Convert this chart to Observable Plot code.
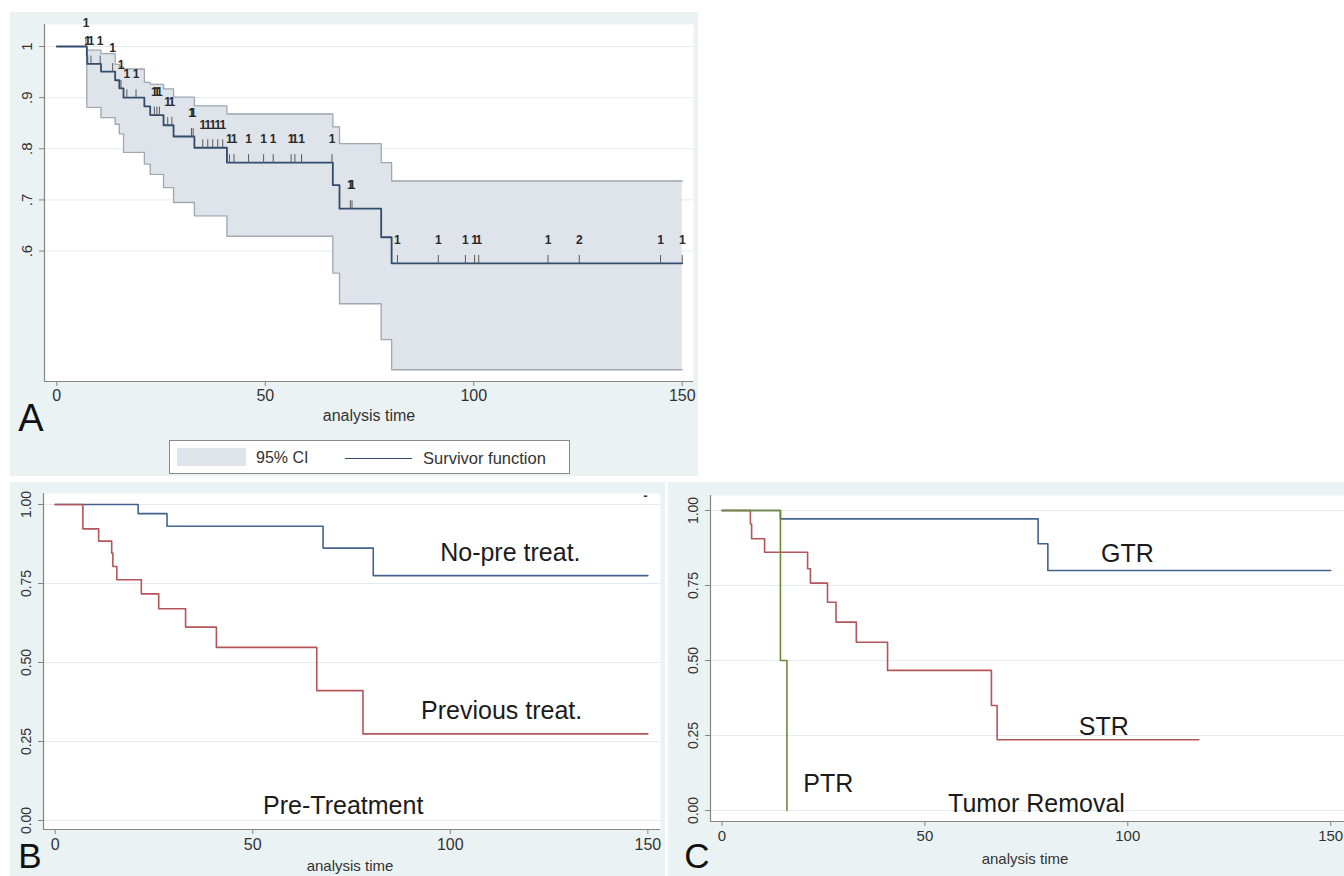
<!DOCTYPE html>
<html>
<head>
<meta charset="utf-8">
<script src="https://cdn.jsdelivr.net/npm/d3@7"></script>
<script src="https://cdn.jsdelivr.net/npm/@observablehq/plot@0.6"></script>
<style>
  body { margin: 0; background: #ffffff; font-family: "Liberation Sans", Arial, Helvetica, sans-serif; }
  #root { position: relative; width: 1344px; height: 876px; overflow: hidden; background: #ffffff; }
  .panel { position: absolute; background: #eaf2f3; overflow: hidden; }
  .panel svg { position: absolute; left: 0; top: 0; }
  .lbl { position: absolute; transform: translate(-50%, -50%); white-space: nowrap; color: #333; line-height: 1; }
  .letter { position: absolute; transform: translate(-50%, -50%); color: #111; line-height: 1; }
  .legend { position: absolute; background: #ffffff; border: 1px solid #8a8a8a; box-sizing: border-box; }
  .legend .sw { position: absolute; background: #dfe3ea; }
  .legend .ln { position: absolute; height: 0; border-top: 1.7px solid #2f4b6e; }
  .legend .tx { position: absolute; transform: translateY(-50%); white-space: nowrap; color: #333; line-height: 1; }
</style>
</head>
<body>
<div id="root"></div>
<script>
// ------------------------------------------------------------------
// DATA
// ------------------------------------------------------------------
// Panel A: overall Kaplan-Meier survivor function with 95% CI
const aTimes = [0, 7.2, 7.3, 10.6, 14.0, 15.0, 16.0, 21.0, 22.4, 25.6, 28.0, 33.0, 40.8, 66.2, 67.8, 77.8, 80.3, 150];
const aSurv  = [1, 0.982, 0.966, 0.951, 0.934, 0.918, 0.900, 0.883, 0.866, 0.846, 0.824, 0.802, 0.773, 0.729, 0.683, 0.627, 0.576, 0.576];
const aUpper = [1, 0.995, 0.993, 0.986, 0.965, 0.960, 0.956, 0.930, 0.926, 0.917, 0.901, 0.884, 0.868, 0.843, 0.810, 0.773, 0.737, 0.737];
const aLower = [1, 0.881, 0.881, 0.861, 0.848, 0.829, 0.793, 0.770, 0.750, 0.724, 0.695, 0.669, 0.629, 0.557, 0.497, 0.427, 0.368, 0.368];
// censored observations (time, number censored)
const aCensorTimes  = [7.0, 7.4, 8.2, 10.4, 13.4, 15.4, 16.8, 19.0, 23.4, 24.0, 24.6, 26.6, 27.6, 32.3, 32.7,
                       35.0, 36.2, 37.4, 38.6, 39.8, 41.4, 42.5, 46.0, 49.6, 51.9, 56.2, 57.1, 58.7, 66.0,
                       70.4, 70.8, 81.7, 91.5, 98.0, 100.2, 101.2, 117.8, 125.3, 144.8, 150];
const aCensorCounts = [1, 1, 1, 1, 1, 1, 1, 1, 1, 1, 1, 1, 1, 1, 1,
                       1, 1, 1, 1, 1, 1, 1, 1, 1, 1, 1, 1, 1, 1,
                       1, 1, 1, 1, 1, 1, 1, 1, 2, 1, 1];
const aYTicks = [1, 0.9, 0.8, 0.7, 0.6];
const aYTickLabels = ["1", ".9", ".8", ".7", ".6"];
const xTicks = [0, 50, 100, 150];
const legendLabels = ["95% CI", "Survivor function"];

// Panel B: by pre-treatment
const bNoPreTimes = [0, 21.0, 28.3, 67.8, 80.5, 150];
const bNoPreSurv  = [1, 0.971, 0.931, 0.862, 0.775, 0.775];
const bPrevTimes  = [0, 7.0, 11.0, 14.3, 14.6, 15.6, 21.8, 26.2, 33.0, 40.8, 66.2, 77.9, 150];
const bPrevSurv   = [1, 0.923, 0.884, 0.846, 0.804, 0.762, 0.717, 0.670, 0.612, 0.548, 0.411, 0.274, 0.274];
const bLabels = ["No-pre treat.", "Previous treat.", "Pre-Treatment"];
const bLabelT = [115.2, 113.0, 72.9];
const bLabelS = [0.845, 0.348, 0.047];
const bStray = [{t: 149.4, s: 1.028, text: "-"}];

// Panel C: by tumor removal
const cGtrTimes = [0, 14.4, 77.9, 80.3, 150];
const cGtrSurv  = [1, 0.972, 0.889, 0.800, 0.800];
const cStrTimes = [0, 7.0, 7.3, 10.5, 21.1, 21.8, 26.0, 28.1, 33.1, 40.8, 66.4, 67.8, 117.5];
const cStrSurv  = [1, 0.955, 0.906, 0.861, 0.806, 0.758, 0.694, 0.628, 0.561, 0.467, 0.350, 0.236, 0.236];
const cPtrTimes = [0, 14.4, 16.0];
const cPtrSurv  = [1, 0.5, 0];
const cLabels = ["GTR", "STR", "PTR", "Tumor Removal"];
const cLabelT = [99.9, 94.1, 26.2, 77.5];
const cLabelS = [0.856, 0.278, 0.089, 0.022];
const bcYTicks = [0, 0.25, 0.5, 0.75, 1];

// ------------------------------------------------------------------
// STYLE
// ------------------------------------------------------------------
const FONT = '"Liberation Sans", Arial, Helvetica, sans-serif';
const NAVY = "#2f4b6e";
const BLUE = "#43628f";
const RED = "#b4555a";
const GREEN = "#6d8a3a";
const AXIS = "#858585";
const TXT = "#333333";
const GRID = "#e3ebee";

const root = document.getElementById("root");

function rows(times, vals) { return times.map((t, i) => ({t, s: vals[i]})); }
function levelAt(times, vals, t) {
  let v = vals[0];
  for (let i = 0; i < times.length; i++) if (times[i] <= t) v = vals[i];
  return v;
}
function addPanel(left, top, width, height, svg) {
  const d = document.createElement("div");
  d.className = "panel";
  Object.assign(d.style, {left: left + "px", top: top + "px", width: width + "px", height: height + "px"});
  d.appendChild(svg);
  root.appendChild(d);
  return d;
}
function addText(cls, text, x, y, size, extra) {
  const d = document.createElement("div");
  d.className = cls;
  d.textContent = text;
  Object.assign(d.style, {left: x + "px", top: y + "px", fontSize: size + "px"}, extra || {});
  root.appendChild(d);
  return d;
}
const tickShape = { draw(ctx, l) { ctx.moveTo(0, 0); ctx.lineTo(0, -l); } };

// ------------------------------------------------------------------
// PANEL A
// ------------------------------------------------------------------
const aSurvRows = rows(aTimes, aSurv);
const aCI = aTimes.slice(1).map((t, i) => ({t, lo: aLower[i + 1], hi: aUpper[i + 1]}));
const aCens = aCensorTimes.map((t, i) => ({t, s: levelAt(aTimes, aSurv, t), n: String(aCensorCounts[i])}));
const aXDom = [-2.95, 152.7], aYDom = [0.345, 1.043];

const plotA = Plot.plot({
  width: 688, height: 464,
  marginLeft: 34, marginRight: 5, marginTop: 12, marginBottom: 95,
  style: {background: "transparent", fontFamily: FONT, overflow: "visible"},
  x: {domain: aXDom},
  y: {domain: aYDom},
  marks: [
    Plot.frame({fill: "white", stroke: "none"}),
    Plot.gridY(aYTicks, {stroke: GRID, strokeOpacity: 1}),
    Plot.areaY(aCI, {x: "t", y1: "lo", y2: "hi", curve: "step-after", fill: "#dfe3ea"}),
    Plot.line(aCI, {x: "t", y: "hi", curve: "step-after", stroke: "#a0a8b2", strokeWidth: 1.3}),
    Plot.line(aCI, {x: "t", y: "lo", curve: "step-after", stroke: "#a0a8b2", strokeWidth: 1.3}),
    Plot.ruleX(aCI.slice(0, 1), {x: "t", y1: "lo", y2: "hi", stroke: "#a0a8b2", strokeWidth: 1.3}),
    Plot.line(aSurvRows, {x: "t", y: "s", curve: "step-after", stroke: NAVY, strokeWidth: 1.8}),
    Plot.vector(aCens, {x: "t", y: "s", length: 8, rotate: 0, anchor: "start", shape: tickShape, stroke: "#5a5a5a", strokeWidth: 1}),
    Plot.text(aCens, {x: "t", y: "s", text: "n", dy: -23, fontSize: 12, fontWeight: "bold", fill: "#2a2a2a"}),
    Plot.ruleX([aXDom[0]], {stroke: AXIS, strokeWidth: 1.2}),
    Plot.ruleY([aYDom[0]], {stroke: AXIS, strokeWidth: 1.2}),
    Plot.axisY({ticks: aYTicks, tickFormat: (d) => aYTickLabels[aYTicks.indexOf(d)], tickRotate: -90,
                tickSize: 5, tickPadding: 8, fontSize: 15, label: null, stroke: AXIS, fill: TXT}),
    Plot.axisX({ticks: xTicks, tickFormat: d3.format("d"), tickSize: 5, tickPadding: 3, fontSize: 16,
                label: null, stroke: AXIS, fill: TXT})
  ]
});
addPanel(10, 12, 688, 464, plotA);

// legend for panel A
const leg = document.createElement("div");
leg.className = "legend";
Object.assign(leg.style, {left: "169px", top: "440px", width: "401px", height: "34px"});
leg.innerHTML =
  `<div class="sw" style="left:7px;top:7px;width:69px;height:18px"></div>` +
  `<div class="tx" style="left:86px;top:17px;font-size:16px">${legendLabels[0]}</div>` +
  `<div class="ln" style="left:175px;top:17px;width:67px"></div>` +
  `<div class="tx" style="left:253px;top:17px;font-size:16.5px">${legendLabels[1]}</div>`;
root.appendChild(leg);
addText("lbl", "analysis time", 369, 416, 16);
addText("letter", "A", 31, 418, 38);

// ------------------------------------------------------------------
// PANEL B
// ------------------------------------------------------------------
const bXDom = [-2.96, 153.2], bYDom = [-0.0285, 1.0348];
const bAnn = bLabels.map((text, i) => ({text, t: bLabelT[i], s: bLabelS[i]}));
const plotB = Plot.plot({
  width: 655, height: 394,
  marginLeft: 33, marginRight: 5, marginTop: 11, marginBottom: 47,
  style: {background: "transparent", fontFamily: FONT, overflow: "visible"},
  x: {domain: bXDom},
  y: {domain: bYDom},
  marks: [
    Plot.frame({fill: "white", stroke: "none"}),
    Plot.gridY(bcYTicks, {stroke: GRID, strokeOpacity: 1}),
    Plot.line(rows(bNoPreTimes, bNoPreSurv), {x: "t", y: "s", curve: "step-after", stroke: BLUE, strokeWidth: 1.6}),
    Plot.line(rows(bPrevTimes, bPrevSurv), {x: "t", y: "s", curve: "step-after", stroke: RED, strokeWidth: 1.6}),
    Plot.text(bAnn, {x: "t", y: "s", text: "text", fontSize: 25, fill: "#1b1b1b"}),
    Plot.text(bStray, {x: "t", y: "s", text: "text", fontSize: 13, fontWeight: "bold", fill: "#333"}),
    Plot.ruleX([bXDom[0]], {stroke: AXIS, strokeWidth: 1.2}),
    Plot.ruleY([bYDom[0]], {stroke: AXIS, strokeWidth: 1.2}),
    Plot.axisY({ticks: bcYTicks, tickFormat: d3.format(".2f"), tickRotate: -90,
                tickSize: 5, tickPadding: 8, fontSize: 14, label: null, stroke: AXIS, fill: TXT}),
    Plot.axisX({ticks: xTicks, tickFormat: d3.format("d"), tickSize: 5, tickPadding: 4, fontSize: 16,
                label: null, stroke: AXIS, fill: TXT})
  ]
});
addPanel(10, 482, 655, 394, plotB);
addText("lbl", "analysis time", 350, 865, 15);
addText("letter", "B", 30, 855, 35);

// ------------------------------------------------------------------
// PANEL C
// ------------------------------------------------------------------
const cXDom = [-2.83, 153.4], cYDom = [-0.0367, 1.05];
const cAnn = cLabels.map((text, i) => ({text, t: cLabelT[i], s: cLabelS[i]}));
const plotC = Plot.plot({
  width: 676, height: 394,
  marginLeft: 42, marginRight: 0, marginTop: 13, marginBottom: 55,
  style: {background: "transparent", fontFamily: FONT, overflow: "visible"},
  x: {domain: cXDom},
  y: {domain: cYDom},
  marks: [
    Plot.frame({fill: "white", stroke: "none"}),
    Plot.gridY(bcYTicks, {stroke: GRID, strokeOpacity: 1}),
    Plot.line(rows(cGtrTimes, cGtrSurv), {x: "t", y: "s", curve: "step-after", stroke: BLUE, strokeWidth: 1.6}),
    Plot.line(rows(cStrTimes, cStrSurv), {x: "t", y: "s", curve: "step-after", stroke: RED, strokeWidth: 1.6}),
    Plot.line(rows(cPtrTimes, cPtrSurv), {x: "t", y: "s", curve: "step-after", stroke: GREEN, strokeWidth: 1.6}),
    Plot.text(cAnn, {x: "t", y: "s", text: "text", fontSize: 25, fill: "#1b1b1b"}),
    Plot.ruleX([cXDom[0]], {stroke: AXIS, strokeWidth: 1.2}),
    Plot.ruleY([cYDom[0]], {stroke: AXIS, strokeWidth: 1.2}),
    Plot.axisY({ticks: bcYTicks, tickFormat: d3.format(".2f"), tickRotate: -90,
                tickSize: 5, tickPadding: 8, fontSize: 14, label: null, stroke: AXIS, fill: TXT}),
    Plot.axisX({ticks: xTicks, tickFormat: d3.format("d"), tickSize: 5, tickPadding: 4, fontSize: 15,
                label: null, stroke: AXIS, fill: TXT})
  ]
});
addPanel(668, 482, 676, 394, plotC);
addText("lbl", "analysis time", 1025, 858, 15);
addText("letter", "C", 697, 855, 35);
</script>
</body>
</html>
